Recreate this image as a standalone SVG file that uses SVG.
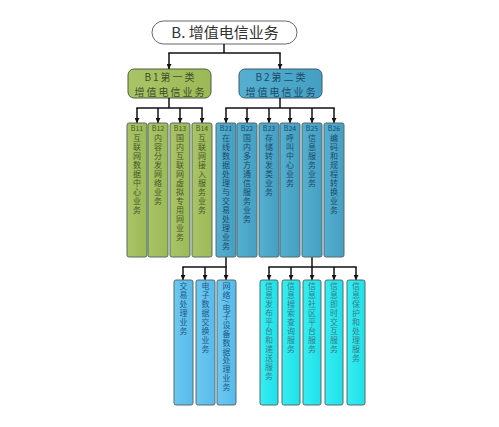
<svg xmlns="http://www.w3.org/2000/svg" width="499" height="427" viewBox="0 0 499 427">
<defs>
<marker id="arr" viewBox="0 0 10 10" refX="10" refY="5" markerWidth="5" markerHeight="5" orient="auto" markerUnits="userSpaceOnUse">
<path d="M0,0 L10,5 L0,10 z" fill="#111"/>
</marker>
<linearGradient id="gG" x1="0" y1="0" x2="1" y2="0"><stop offset="0" stop-color="#a9c466"/><stop offset="1" stop-color="#9cb957"/></linearGradient>
<linearGradient id="gB" x1="0" y1="0" x2="1" y2="0"><stop offset="0" stop-color="#55afd0"/><stop offset="1" stop-color="#449fc2"/></linearGradient>
<linearGradient id="gL" x1="0" y1="0" x2="1" y2="0"><stop offset="0" stop-color="#6cc8f2"/><stop offset="1" stop-color="#58baea"/></linearGradient>
<linearGradient id="gC" x1="0" y1="0" x2="1" y2="0"><stop offset="0" stop-color="#36eef2"/><stop offset="1" stop-color="#1fe0e8"/></linearGradient>
</defs>
<style>
text{font-family:"Noto Sans CJK SC","Noto Sans",sans-serif;text-anchor:middle}
.conn line{stroke:#111;stroke-width:1.5;fill:none}
.col{stroke:#566b6b;stroke-width:1}
.g{fill:url(#gG)}
.b{fill:url(#gB)}
.l{fill:url(#gL)}
.c{fill:url(#gC)}
.lab{font-size:7px}
.hd{font-size:10px;letter-spacing:2px}
.v{font-size:8px;writing-mode:vertical-rl;text-anchor:start;letter-spacing:1px}
.v2{letter-spacing:0.8px}
.tg{fill:#46562e}
.tb{fill:#1d4a68}
.tl{fill:#24587e}
.tc{fill:#3d7a86}
</style>
<rect width="499" height="427" fill="#ffffff"/>

<g id="root">
<rect x="152" y="21" width="145" height="23" rx="11.5" fill="#ffffff" stroke="#666" stroke-width="1"/>
<text x="225" y="38" font-size="15" fill="#333">B. 增值电信业务</text>
</g>

<g id="B1">
<rect x="128" y="69" width="83" height="29" rx="6" fill="url(#gG)" stroke="#4d5e3a" stroke-width="1"/>
<text class="hd" x="170.5" y="80.8" fill="#3e4e2c">B1第一类</text>
<text class="hd" x="170.5" y="95.6" fill="#3e4e2c">增值电信业务</text>
</g>
<g id="B2">
<rect x="239" y="69" width="83" height="29" rx="6" fill="url(#gB)" stroke="#3a5a6a" stroke-width="1"/>
<text class="hd" x="281.5" y="80.8" fill="#1d4a68">B2第二类</text>
<text class="hd" x="281.5" y="95.6" fill="#1d4a68">增值电信业务</text>
</g>

<g class="conn" id="connectors">
<line x1="224" y1="44" x2="224" y2="53"/>
<line x1="168.3" y1="53" x2="280.7" y2="53"/>
<line x1="169" y1="53" x2="169" y2="69" marker-end="url(#arr)"/>
<line x1="280" y1="53" x2="280" y2="69" marker-end="url(#arr)"/>

<line x1="169" y1="98" x2="169" y2="108"/>
<line x1="136.3" y1="108" x2="202.7" y2="108"/>
<line x1="137" y1="108" x2="137" y2="123" marker-end="url(#arr)"/>
<line x1="158" y1="108" x2="158" y2="123" marker-end="url(#arr)"/>
<line x1="180" y1="108" x2="180" y2="123" marker-end="url(#arr)"/>
<line x1="202" y1="108" x2="202" y2="123" marker-end="url(#arr)"/>

<line x1="280" y1="98" x2="280" y2="108"/>
<line x1="225.3" y1="108" x2="334.7" y2="108"/>
<line x1="226" y1="108" x2="226" y2="123" marker-end="url(#arr)"/>
<line x1="247" y1="108" x2="247" y2="123" marker-end="url(#arr)"/>
<line x1="269" y1="108" x2="269" y2="123" marker-end="url(#arr)"/>
<line x1="290" y1="108" x2="290" y2="123" marker-end="url(#arr)"/>
<line x1="312" y1="108" x2="312" y2="123" marker-end="url(#arr)"/>
<line x1="334" y1="108" x2="334" y2="123" marker-end="url(#arr)"/>

<line x1="226" y1="257" x2="226" y2="267"/>
<line x1="182.3" y1="267" x2="226.7" y2="267"/>
<line x1="183" y1="267" x2="183" y2="280" marker-end="url(#arr)"/>
<line x1="205" y1="267" x2="205" y2="280" marker-end="url(#arr)"/>
<line x1="226" y1="267" x2="226" y2="280" marker-end="url(#arr)"/>

<line x1="312" y1="257" x2="312" y2="267"/>
<line x1="268.3" y1="267" x2="356.7" y2="267"/>
<line x1="269" y1="267" x2="269" y2="280" marker-end="url(#arr)"/>
<line x1="291" y1="267" x2="291" y2="280" marker-end="url(#arr)"/>
<line x1="312" y1="267" x2="312" y2="280" marker-end="url(#arr)"/>
<line x1="334" y1="267" x2="334" y2="280" marker-end="url(#arr)"/>
<line x1="356" y1="267" x2="356" y2="280" marker-end="url(#arr)"/>
</g>

<g id="B11">
<rect class="col g" x="127" y="123" width="20" height="134" rx="2"/>
<text class="lab tg" x="137" y="131">B11</text>
<text class="v tg" x="137" y="134">互联网数据中心业务</text>
</g>
<g id="B12">
<rect class="col g" x="148" y="123" width="20" height="134" rx="2"/>
<text class="lab tg" x="158" y="131">B12</text>
<text class="v tg" x="158" y="134">内容分发网络业务</text>
</g>
<g id="B13">
<rect class="col g" x="170" y="123" width="20" height="134" rx="2"/>
<text class="lab tg" x="180" y="131">B13</text>
<text class="v tg" x="180" y="134">国内互联网虚拟专用网业务</text>
</g>
<g id="B14">
<rect class="col g" x="192" y="123" width="20" height="134" rx="2"/>
<text class="lab tg" x="202" y="131">B14</text>
<text class="v tg" x="202" y="134">互联网接入服务业务</text>
</g>

<g id="B21">
<rect class="col b" x="216" y="123" width="20" height="134" rx="2"/>
<text class="lab tb" x="226" y="131">B21</text>
<text class="v tb" x="226" y="134">在线数据处理与交易处理业务</text>
</g>
<g id="B22">
<rect class="col b" x="237" y="123" width="20" height="134" rx="2"/>
<text class="lab tb" x="247" y="131">B22</text>
<text class="v tb" x="247" y="134">国内多方通信服务业务</text>
</g>
<g id="B23">
<rect class="col b" x="259" y="123" width="20" height="134" rx="2"/>
<text class="lab tb" x="269" y="131">B23</text>
<text class="v tb" x="269" y="134">存储转发类业务</text>
</g>
<g id="B24">
<rect class="col b" x="280" y="123" width="20" height="134" rx="2"/>
<text class="lab tb" x="290" y="131">B24</text>
<text class="v tb" x="290" y="134">呼叫中心业务</text>
</g>
<g id="B25">
<rect class="col b" x="302" y="123" width="20" height="134" rx="2"/>
<text class="lab tb" x="312" y="131">B25</text>
<text class="v tb" x="312" y="134">信息服务业务</text>
</g>
<g id="B26">
<rect class="col b" x="324" y="123" width="20" height="134" rx="2"/>
<text class="lab tb" x="334" y="131">B26</text>
<text class="v tb" x="334" y="134">编码和规程转换业务</text>
</g>

<g id="B21-1">
<rect class="col l" x="174" y="280" width="19" height="125" rx="2"/>
<text class="v tl" x="183.5" y="282">交易处理业务</text>
</g>
<g id="B21-2">
<rect class="col l" x="196" y="280" width="19" height="125" rx="2"/>
<text class="v tl" x="205.5" y="282">电子数据交换业务</text>
</g>
<g id="B21-3">
<rect class="col l" x="217" y="280" width="19" height="125" rx="2"/>
<text class="v v2 tl" x="226.5" y="282">网络/电子设备数据处理业务</text>
</g>

<g id="B25-1">
<rect class="col c" x="260" y="280" width="18" height="125" rx="2"/>
<text class="v tc" x="269" y="282">信息发布平台和递送服务</text>
</g>
<g id="B25-2">
<rect class="col c" x="282" y="280" width="18" height="125" rx="2"/>
<text class="v tc" x="291" y="282">信息搜索查询服务</text>
</g>
<g id="B25-3">
<rect class="col c" x="303" y="280" width="18" height="125" rx="2"/>
<text class="v tc" x="312" y="282">信息社区平台服务</text>
</g>
<g id="B25-4">
<rect class="col c" x="325" y="280" width="18" height="125" rx="2"/>
<text class="v tc" x="334" y="282">信息即时交互服务</text>
</g>
<g id="B25-5">
<rect class="col c" x="347" y="280" width="18" height="125" rx="2"/>
<text class="v tc" x="356" y="282">信息保护和处理服务</text>
</g>
</svg>
